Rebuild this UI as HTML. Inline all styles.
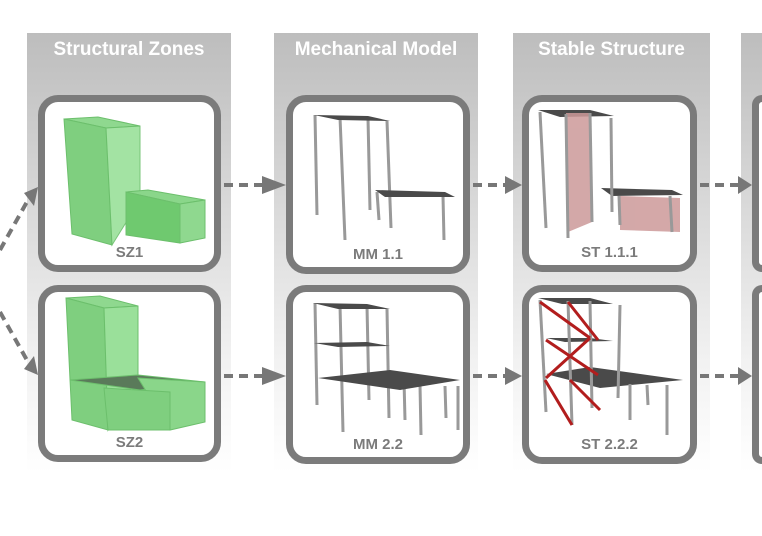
<!DOCTYPE html>
<html><head><meta charset="utf-8"><style>
body{margin:0;width:762px;height:536px;background:#fff;overflow:hidden;font-family:"Liberation Sans",sans-serif;position:relative}
.col{position:absolute;top:33px;height:440px;background:linear-gradient(#bdbdbd 0%,#d6d6d6 35%,#f2f2f2 75%,#fff 100%)}
.hd{position:absolute;top:0;left:0;right:0;height:34px;line-height:34px;text-align:center;color:#fff;font-weight:bold;font-size:19px}
.card{position:absolute;box-sizing:border-box;border:7px solid #7b7b7b;border-radius:20px;background:#fff}
.lbl{position:absolute;bottom:4px;left:0;right:0;text-align:center;color:#7b7b7b;font-weight:bold;font-size:15px}
svg{position:absolute;left:0;top:0}
</style></head><body>
<div class="col" style="left:27px;width:204px"><div class="hd">Structural Zones</div></div>
<div class="col" style="left:274px;width:204px"><div class="hd">Mechanical Model</div></div>
<div class="col" style="left:513px;width:197px"><div class="hd">Stable Structure</div></div>
<div class="col" style="left:741px;width:21px"></div>

<div class="card" style="left:38px;top:95px;width:183px;height:177px"><div class="lbl">SZ1</div></div>
<div class="card" style="left:38px;top:285px;width:183px;height:177px"><div class="lbl">SZ2</div></div>
<div class="card" style="left:286px;top:95px;width:184px;height:179px"><div class="lbl">MM 1.1</div></div>
<div class="card" style="left:286px;top:285px;width:184px;height:179px"><div class="lbl">MM 2.2</div></div>
<div class="card" style="left:522px;top:95px;width:175px;height:177px"><div class="lbl">ST 1.1.1</div></div>
<div class="card" style="left:522px;top:285px;width:175px;height:179px"><div class="lbl">ST 2.2.2</div></div>
<div class="card" style="left:752px;top:95px;width:10px;height:177px;border-right:0;border-radius:20px 0 0 20px"></div>
<div class="card" style="left:752px;top:285px;width:10px;height:179px;border-right:0;border-radius:20px 0 0 20px"></div>

<svg width="762" height="536">
<g stroke="#777" stroke-width="4" stroke-dasharray="9,6" fill="none">
<line x1="224" y1="185" x2="262" y2="185"/><line x1="473" y1="185" x2="505" y2="185"/><line x1="700" y1="185" x2="738" y2="185"/>
<line x1="224" y1="376" x2="262" y2="376"/><line x1="473" y1="376" x2="505" y2="376"/><line x1="700" y1="376" x2="738" y2="376"/>
<line x1="0" y1="250" x2="28" y2="200"/><line x1="0" y1="312" x2="28" y2="362"/>
</g>
<g fill="#777">
<polygon points="262,176 286,185 262,194"/><polygon points="505,176 522,185 505,194"/><polygon points="738,176 752,185 738,194"/>
<polygon points="262,367 286,376 262,385"/><polygon points="505,367 522,376 505,385"/><polygon points="738,367 752,376 738,385"/>
<polygon points="24,193 38,187 34,206"/><polygon points="24,369 38,375 34,356"/>
</g>
<g stroke="#6cbf6c" stroke-width="1">
<polygon points="64,119 98,117 140,126 106,128" fill="#8fd88f"/>
<polygon points="64,119 106,128 112,245 72,234" fill="#7fcf7f"/>
<polygon points="106,128 140,126 140,200 112,245" fill="#9ae09a" opacity=".9"/>
<polygon points="126,192 148,190 205,200 180,204" fill="#8ad68a"/>
<polygon points="126,192 180,204 180,243 126,235" fill="#6fc96f"/>
<polygon points="180,204 205,200 205,238 180,243" fill="#8fd88f"/>
</g>
<g stroke="#6cbf6c" stroke-width="1">
<polygon points="66,298 100,296 138,306 104,308" fill="#8fd88f"/>
<polygon points="66,298 104,308 108,430 72,420" fill="#7fcf7f"/>
<polygon points="104,308 138,306 138,375 108,430" fill="#9ae09a"/>
<polygon points="70,380 138,375 205,382 140,390" fill="#5a7a5a"/>
<polygon points="138,378 205,382 205,422 170,430" fill="#8ad68a"/>
<polygon points="104,388 170,392 170,430 108,430" fill="#7fcf7f"/>
</g>
<g stroke="#999" stroke-width="3">
<line x1="315" y1="115" x2="317" y2="215"/><line x1="340" y1="117" x2="345" y2="240"/><line x1="368" y1="118" x2="370" y2="210"/><line x1="387" y1="121" x2="391" y2="228"/>
<line x1="377" y1="192" x2="379" y2="220"/><line x1="443" y1="196" x2="444" y2="240"/>
<line x1="315" y1="303" x2="317" y2="405"/><line x1="340" y1="305" x2="343" y2="432"/><line x1="367" y1="306" x2="369" y2="400"/><line x1="387" y1="309" x2="389" y2="418"/>
<line x1="404" y1="380" x2="405" y2="420"/><line x1="420" y1="385" x2="421" y2="435"/><line x1="445" y1="386" x2="446" y2="418"/><line x1="458" y1="386" x2="458" y2="430"/>
</g>
<g fill="#4a4a4a">
<polygon points="314,115 368,116 390,121 338,120"/><polygon points="375,190 445,192 455,197 385,197"/>
<polygon points="313,303 367,304 390,309 338,309"/><polygon points="314,343 367,342 390,346 338,347"/><polygon points="318,378 390,370 460,380 400,390"/>
<polygon points="538,110 590,110 614,116 560,117"/><polygon points="601,188 672,190 683,195 612,196"/>
<polygon points="538,298 590,298 613,304 562,304"/><polygon points="546,338 590,338 613,341 565,342"/><polygon points="546,374 590,367 683,380 600,388"/>
</g>
<g fill="#c99" opacity=".85"><polygon points="566,113 590,113 592,222 568,232"/><polygon points="620,196 680,198 680,232 620,230"/></g>
<g stroke="#999" stroke-width="3">
<line x1="540" y1="112" x2="546" y2="228"/><line x1="566" y1="114" x2="568" y2="238"/><line x1="590" y1="113" x2="592" y2="222"/><line x1="611" y1="118" x2="612" y2="212"/>
<line x1="619" y1="196" x2="620" y2="225"/><line x1="670" y1="196" x2="672" y2="232"/>
<line x1="540" y1="300" x2="546" y2="412"/><line x1="568" y1="301" x2="572" y2="425"/><line x1="590" y1="301" x2="592" y2="408"/><line x1="620" y1="305" x2="618" y2="398"/>
<line x1="630" y1="384" x2="630" y2="420"/><line x1="647" y1="385" x2="648" y2="405"/><line x1="667" y1="385" x2="667" y2="435"/>
</g>
<g stroke="#b21d1d" stroke-width="3">
<line x1="540" y1="302" x2="590" y2="338"/><line x1="568" y1="302" x2="598" y2="340"/><line x1="590" y1="338" x2="546" y2="378"/><line x1="546" y1="340" x2="598" y2="375"/><line x1="545" y1="380" x2="572" y2="425"/><line x1="570" y1="380" x2="600" y2="410"/>
</g>
</svg>
</body></html>
